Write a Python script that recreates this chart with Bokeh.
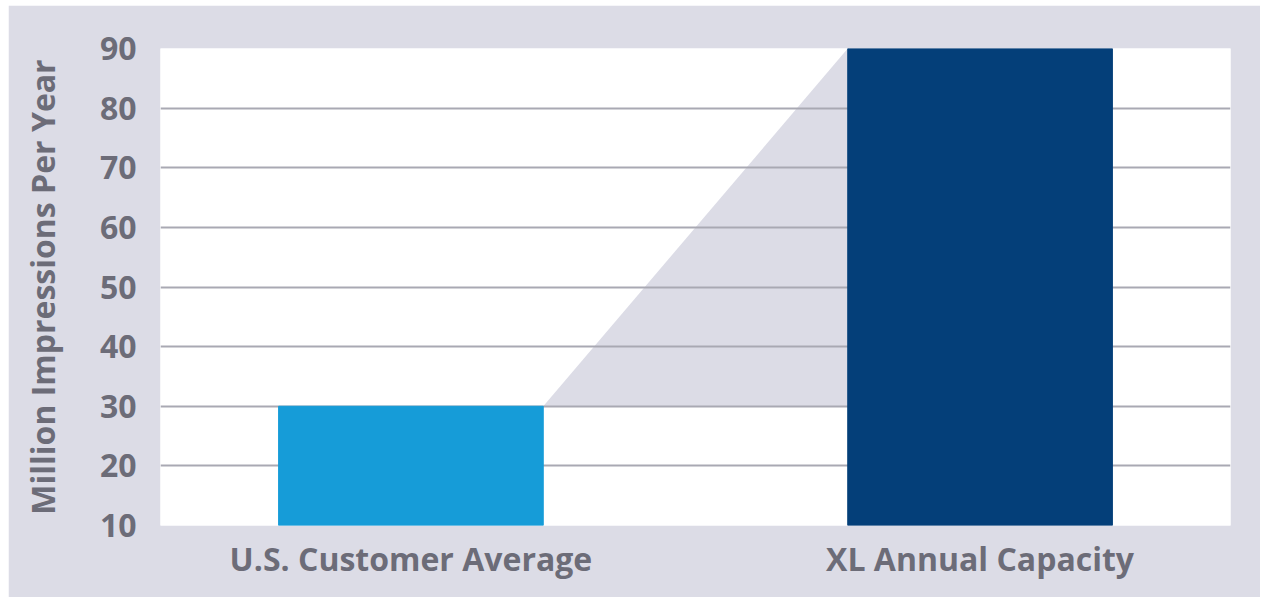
from bokeh.plotting import figure
from bokeh.models import FixedTicker, Range1d, ColumnDataSource
from bokeh.embed import file_html
from bokeh.resources import INLINE

categories = ["U.S. Customer Average", "XL Annual Capacity"]
values = [30, 90]
y_ticks = [10, 20, 30, 40, 50, 60, 70, 80, 90]
bar_colors = ["#169cd8", "#043f79"]

BG = "#dcdce6"
TXT = "#6c6c78"
GRID = "#a9a9b3"
BAR_W = 0.465
FONT = "Open Sans"

xs = list(range(len(categories)))

p = figure(width=1252, height=592, output_backend="svg", toolbar_location=None,
           x_range=Range1d(-0.44, 1.44), y_range=Range1d(y_ticks[0], y_ticks[-1]),
           min_border_left=152, min_border_right=30, min_border_top=43, min_border_bottom=72)
p.margin = (5, 6, 3, 8)
p.background_fill_color = "white"
p.border_fill_color = BG
p.outline_line_color = None

# connector triangle between the bar tops
tri_x = [xs[0] + BAR_W / 2, xs[1] - BAR_W / 2, xs[1] - BAR_W / 2]
tri_y = [values[0], values[1], values[0]]
p.patch(tri_x, tri_y, fill_color=BG, line_color=None, level="image")

src = ColumnDataSource(dict(x=xs, top=values, color=bar_colors))
p.vbar(x="x", top="top", bottom=y_ticks[0], width=BAR_W, color="color", source=src)

p.xgrid.grid_line_color = None
p.ygrid.grid_line_color = GRID
p.ygrid.grid_line_width = 2
p.ygrid.level = "underlay"

p.xaxis.ticker = FixedTicker(ticks=xs)
p.xaxis.major_label_overrides = {i: c for i, c in zip(xs, categories)}
p.yaxis.ticker = FixedTicker(ticks=y_ticks)

for ax in (p.xaxis[0], p.yaxis[0]):
    ax.axis_line_color = None
    ax.major_tick_line_color = None
    ax.minor_tick_line_color = None
    ax.major_label_text_font = FONT
    ax.major_label_text_font_style = "bold"
    ax.major_label_text_color = TXT

p.xaxis.major_label_text_font_size = "32px"
p.yaxis.major_label_text_font_size = "32px"
p.xaxis.major_label_standoff = 5
p.yaxis.major_label_standoff = 18
p.yaxis.axis_label = "Million Impressions Per Year"
p.yaxis.axis_label_text_font = FONT
p.yaxis.axis_label_text_font_style = "bold"
p.yaxis.axis_label_text_font_size = "32px"
p.yaxis.axis_label_text_color = TXT
p.yaxis.axis_label_standoff = 33

open("out.html", "w").write(file_html(p, INLINE))
